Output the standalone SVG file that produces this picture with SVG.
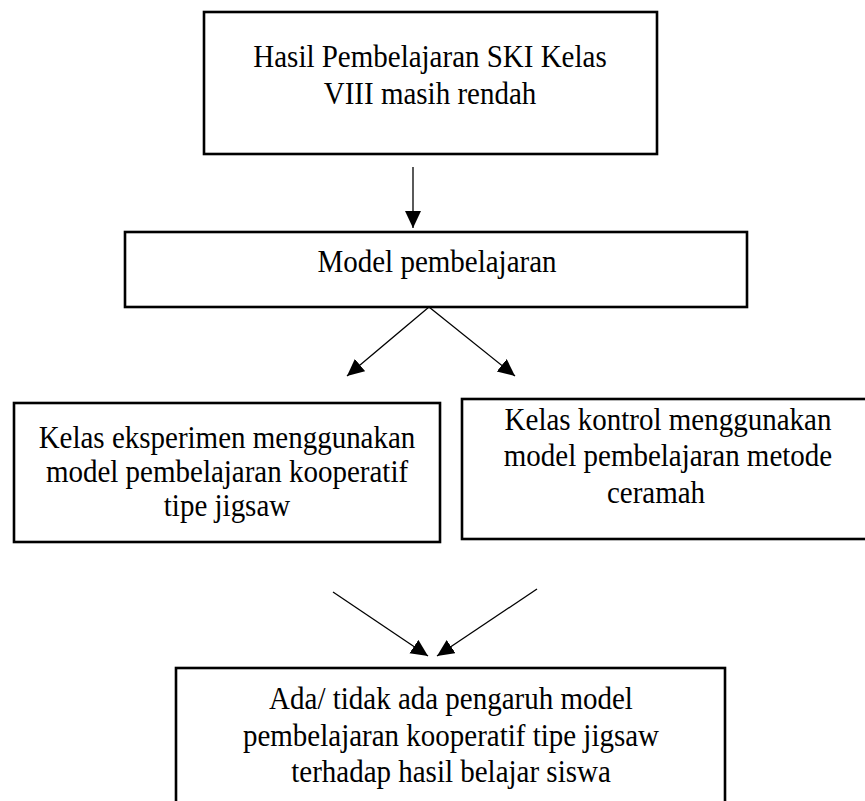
<svg xmlns="http://www.w3.org/2000/svg" width="865" height="801" viewBox="0 0 865 801">
<defs>
<style>
.box{fill:#fff;stroke:#000;stroke-width:2.6}
.t{font-family:"Liberation Serif","Times New Roman",serif;font-size:29px;fill:#000;text-anchor:middle}
.c{stroke:#000;stroke-width:1.3;fill:none;marker-end:url(#ah)}
</style>
<marker id="ah" markerUnits="userSpaceOnUse" markerWidth="19" markerHeight="17" refX="17" refY="8" orient="auto">
<path d="M0,0 L17,8 L0,16 z" fill="#000"/>
</marker>
</defs>
<rect width="865" height="801" fill="#fff"/>
<g id="n1">
<rect class="box" x="204" y="12" width="453" height="142"/>
<text class="t" transform="translate(430,67) scale(1,1.1)">Hasil Pembelajaran SKI Kelas</text>
<text class="t" transform="translate(430,104) scale(1,1.1)">VIII masih rendah</text>
</g>
<g id="n2">
<rect class="box" x="125" y="232" width="622" height="75"/>
<text class="t" transform="translate(437,272) scale(1,1.1)">Model pembelajaran</text>
</g>
<g id="n3">
<rect class="box" x="14" y="403" width="426" height="139"/>
<text class="t" transform="translate(227,448) scale(1,1.1)">Kelas eksperimen menggunakan</text>
<text class="t" transform="translate(227,482) scale(1,1.1)">model pembelajaran kooperatif</text>
<text class="t" transform="translate(227,516) scale(1,1.1)">tipe jigsaw</text>
</g>
<g id="n4">
<rect class="box" x="462" y="399" width="410" height="140"/>
<text class="t" transform="translate(668,430) scale(1,1.1)">Kelas kontrol menggunakan</text>
<text class="t" transform="translate(668,466) scale(1,1.1)">model pembelajaran metode</text>
<text class="t" transform="translate(656,503) scale(1,1.1)">ceramah</text>
</g>
<g id="n5">
<rect class="box" x="176" y="668" width="549" height="160"/>
<text class="t" transform="translate(451,709) scale(1,1.1)">Ada/ tidak ada pengaruh model</text>
<text class="t" transform="translate(451,746) scale(1,1.1)">pembelajaran kooperatif tipe jigsaw</text>
<text class="t" transform="translate(451,782) scale(1,1.1)">terhadap hasil belajar siswa</text>
</g>
<g id="connectors">
<line class="c" x1="413" y1="167" x2="413" y2="228"/>
<line class="c" x1="429" y1="307" x2="347" y2="376"/>
<line class="c" x1="429" y1="307" x2="515" y2="376"/>
<line class="c" x1="333" y1="592" x2="428" y2="656"/>
<line class="c" x1="537" y1="589" x2="437" y2="656"/>
</g>
</svg>
